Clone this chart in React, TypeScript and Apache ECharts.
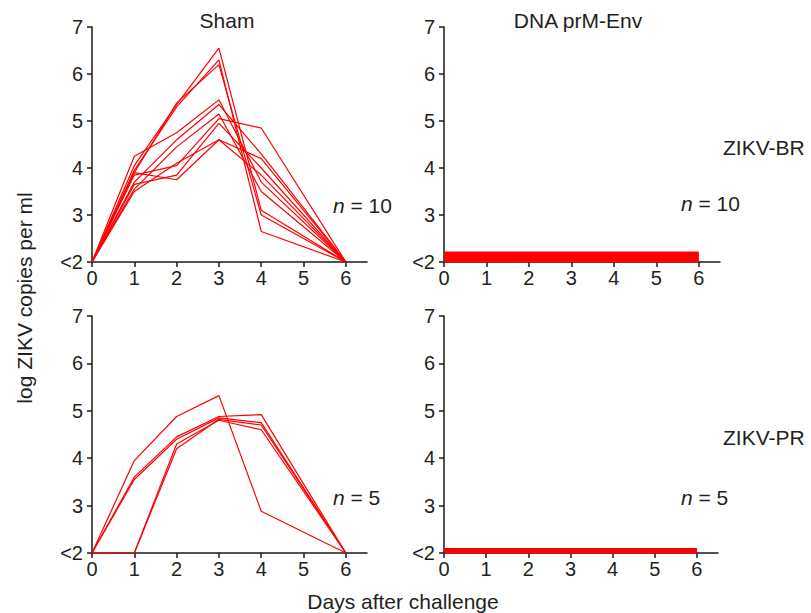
import React, { useEffect, useRef } from "react";
import * as echarts from "echarts";

const days = [0, 1, 2, 3, 4, 6];
const xTicks = [0, 1, 2, 3, 4, 5, 6];
const yTickLabels: Record<number, string> = { 2: "<2", 3: "3", 4: "4", 5: "5", 6: "6", 7: "7" };

// Sham, ZIKV-BR (n = 10)
const shamBR: number[][] = [
  [2, 4.05, 5.35, 6.55, 3.1, 2],
  [2, 3.95, 5.3, 6.3, 2.65, 2],
  [2, 3.9, 5.38, 6.2, 3.0, 2],
  [2, 4.25, 4.75, 5.45, 3.7, 2],
  [2, 3.7, 4.6, 5.35, 4.3, 2],
  [2, 3.55, 4.45, 5.15, 3.5, 2],
  [2, 3.85, 4.05, 5.05, 4.85, 2],
  [2, 3.65, 3.85, 4.95, 4.0, 2],
  [2, 3.5, 4.1, 4.6, 4.2, 2],
  [2, 3.9, 3.75, 4.6, 3.85, 2],
];

// Sham, ZIKV-PR (n = 5)
const shamPR: number[][] = [
  [2, 3.95, 4.88, 5.32, 2.88, 2],
  [2, 3.6, 4.45, 4.88, 4.92, 2],
  [2, 3.55, 4.4, 4.85, 4.75, 2],
  [2, 2, 4.3, 4.8, 4.6, 2],
  [2, 2, 4.2, 4.82, 4.7, 2],
];

// DNA prM-Env, ZIKV-BR (n = 10): all below detection
const dnaBR: number[][] = [
  [2, 2, 2, 2, 2, 2],
  [2, 2, 2, 2, 2, 2],
  [2, 2, 2, 2, 2, 2],
  [2, 2, 2, 2, 2, 2],
  [2, 2, 2, 2, 2, 2],
  [2, 2, 2, 2, 2, 2],
  [2, 2, 2, 2, 2, 2],
  [2, 2, 2, 2, 2, 2],
  [2, 2, 2, 2, 2, 2],
  [2, 2, 2, 2, 2, 2],
];

// DNA prM-Env, ZIKV-PR (n = 5)
const dnaPR: number[][] = [
  [2, 2, 2, 2, 2, 2],
  [2, 2, 2, 2, 2, 2],
  [2, 2, 2, 2, 2, 2],
  [2, 2, 2, 2, 2, 2],
  [2, 2, 2, 2, 2, 2],
];

const FONT = "Liberation Sans, Arial, Helvetica, sans-serif";
const TEXT = "#231f20";
const RED = "#ff0000";
const AXIS = "#1a1a1a";

export default function App() {
  const ref = useRef<HTMLDivElement>(null);
  useEffect(() => {
    document.body.style.margin = "0";
    const chart = echarts.init(ref.current!, undefined, { renderer: "svg" });

    const grids = [
      { left: 92, top: 27, width: 275, height: 235 },
      { left: 444, top: 27, width: 276, height: 235 },
      { left: 92, top: 316, width: 275, height: 237 },
      { left: 444, top: 316, width: 274, height: 237 },
    ];

    const xAxis = grids.map((_, i) => ({
      type: "value",
      gridIndex: i,
      min: 0,
      max: 6.5,
      interval: 1,
      splitLine: { show: false },
      axisLine: { show: true, onZero: false, lineStyle: { color: AXIS, width: 1.5 } },
      axisTick: { show: true, length: 5, customValues: xTicks, lineStyle: { color: AXIS, width: 1.5 } },
      axisLabel: {
        customValues: xTicks,
        color: TEXT,
        fontFamily: FONT,
        fontSize: 20,
        margin: 6,
      },
    }));

    const yAxis = grids.map((_, i) => ({
      type: "value",
      gridIndex: i,
      min: 2,
      max: 7,
      interval: 1,
      splitLine: { show: false },
      axisLine: { show: true, onZero: false, lineStyle: { color: AXIS, width: 1.5 } },
      axisTick: { show: true, length: 5, lineStyle: { color: AXIS, width: 1.5 } },
      axisLabel: {
        color: TEXT,
        fontFamily: FONT,
        fontSize: 20,
        margin: 9,
        formatter: (v: number) => yTickLabels[v] ?? "",
      },
    }));

    const lines = (rows: number[][], idx: number) =>
      rows.map((row) => ({
        type: "line",
        xAxisIndex: idx,
        yAxisIndex: idx,
        data: days.map((d, j) => [d, row[j]]),
        showSymbol: false,
        clip: true,
        lineStyle: { color: RED, width: 1.2 },
        emphasis: { disabled: true },
      }));

    // Overlapping "<2" traces: each animal drawn ~1 px above the previous one
    const stacked = (rows: number[][], idx: number, step: number) => ({
      type: "custom",
      xAxisIndex: idx,
      yAxisIndex: idx,
      data: rows.map((r) => [days[0], r[0]]),
      renderItem: (params: any, api: any) => {
        const row = rows[params.dataIndex];
        const off = (params.dataIndex + 0.5) * step;
        const pts = days.map((d, j) => {
          const p = api.coord([d, row[j]]);
          return [p[0], p[1] - off];
        });
        return {
          type: "polyline",
          shape: { points: pts },
          style: { stroke: RED, lineWidth: step + 0.9, fill: null, lineCap: "butt" },
        };
      },
    });

    const series = [
      ...lines(shamBR, 0),
      stacked(dnaBR, 1, 1.0),
      ...lines(shamPR, 2),
      stacked(dnaPR, 3, 0.9),
    ];

    const txt = (x: number, y: number, text: string, size: number, align = "center") => ({
      type: "text",
      x,
      y,
      style: {
        text,
        fill: TEXT,
        font: `${size}px ${FONT}`,
        textAlign: align,
        textVerticalAlign: "middle",
      },
    });

    const nLabel = (x: number, y: number, n: string) => ({
      type: "text",
      x,
      y,
      style: {
        text: `{i|n} = ${n}`,
        fill: TEXT,
        font: `21px ${FONT}`,
        textVerticalAlign: "middle",
        rich: { i: { fontStyle: "italic", fontSize: 21, fontFamily: FONT, fill: TEXT } },
      },
    });

    chart.setOption({
      animation: false,
      grid: grids,
      xAxis,
      yAxis,
      series,
      graphic: [
        txt(227, 20, "Sham", 21),
        txt(578, 20, "DNA prM-Env", 21),
        txt(723, 147, "ZIKV-BR", 21, "left"),
        txt(723, 437, "ZIKV-PR", 21, "left"),
        nLabel(333, 205, "10"),
        nLabel(681, 203, "10"),
        nLabel(333, 497, "5"),
        nLabel(681, 497, "5"),
        txt(403, 601, "Days after challenge", 21),
        {
          type: "text",
          x: 24,
          y: 298,
          rotation: Math.PI / 2,
          style: {
            text: "log ZIKV copies per ml",
            fill: TEXT,
            font: `21px ${FONT}`,
            textAlign: "center",
            textVerticalAlign: "middle",
          },
        },
      ],
    });
    return () => chart.dispose();
  }, []);
  return <div ref={ref} style={{ width: 811, height: 613 }} />;
}
